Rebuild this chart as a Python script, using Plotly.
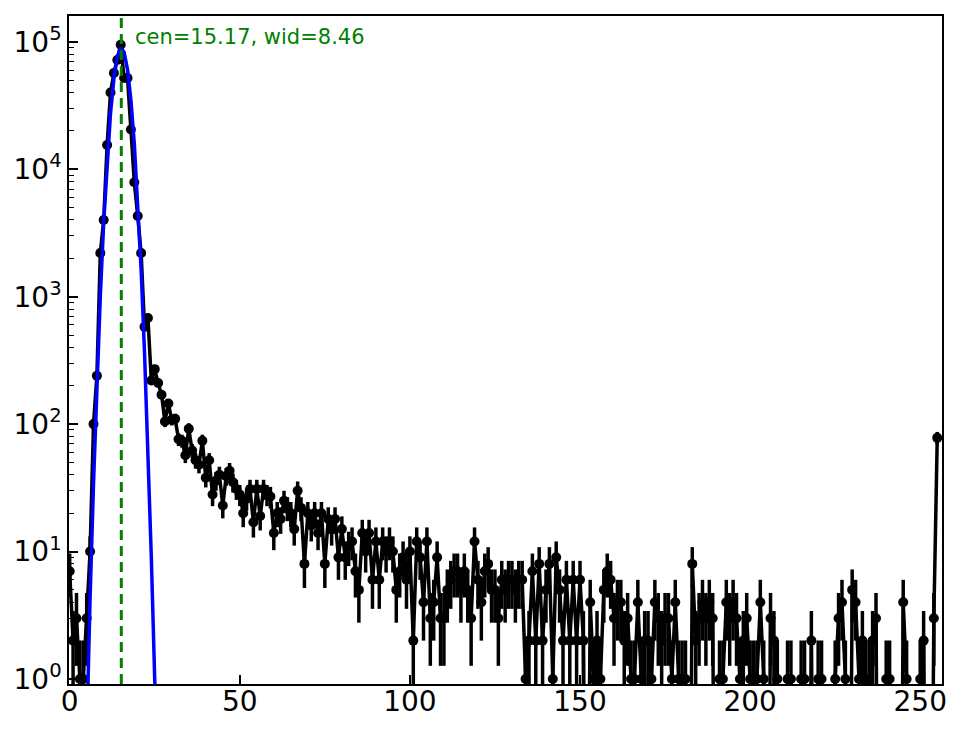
import numpy as np
import plotly.graph_objects as go

# histogram counts, one per bin 0..255
bins = list(range(256))
counts = [
    7, 2, 3, 1, 1, 3, 10, 100, 240, 2200,
    4000, 15500, 40000, 57000, 72000, 95000, 52000, 52000, 20500, 7900,
    4300, 2200, 580, 680, 220, 270, 210, 170, 105, 145,
    108, 110, 76, 74, 57, 92, 62, 52, 48, 74,
    38, 52, 28, 36, 40, 23, 39, 43, 35, 31,
    28, 20, 26, 31, 17, 31, 19, 31, 28, 27,
    14, 20, 18, 25, 22, 20, 15, 30, 22, 8,
    20, 16, 20, 14, 20, 8, 18, 15, 18, 9,
    15, 9, 11, 12, 7, 5, 14, 10, 14, 6,
    12, 6, 12, 10, 12, 10, 5, 7, 9, 6,
    10, 2, 12, 9, 4, 12, 3, 4, 9, 3,
    3, 5, 6, 7, 7, 5, 7, 5, 3, 12,
    6, 4, 7, 8, 5, 5, 3, 6, 5, 6,
    6, 5, 6, 6, 1, 2, 7, 2, 8, 2,
    5, 8, 1, 9, 5, 2, 6, 2, 6, 2,
    6, 2, 0, 4, 1, 2, 1, 5, 7, 6,
    3, 4, 4, 2, 3, 1, 1, 4, 1, 2,
    2, 1, 4, 3, 2, 3, 3, 1, 4, 1,
    1, 1, 0, 8, 2, 3, 4, 3, 4, 3,
    0, 1, 1, 4, 3, 4, 3, 1, 2, 3,
    1, 1, 1, 4, 1, 0, 3, 2, 1, 0,
    0, 1, 1, 0, 0, 1, 1, 0, 2, 0,
    1, 1, 0, 0, 0, 1, 3, 4, 1, 0,
    5, 4, 1, 2, 1, 1, 2, 3, 0, 0,
    1, 1, 0, 0, 0, 4, 1, 0, 0, 0,
    1, 2, 0, 0, 3, 78,
]

# gaussian fit result: amp * exp(-(x - cen)^2 / wid)
cen = 15.17
wid = 8.46
amp = 9.0e4

x = np.array(bins, dtype=float)
n = np.array(counts, dtype=float)
err = np.sqrt(n)
# zeros get pushed below the axis like matplotlib's log clipping
n_plot = np.where(n > 0, n, 1e-3)
fit = amp * np.exp(-(x - cen) ** 2 / wid)
fit = np.maximum(fit, 1e-6)

fig = go.Figure()

fig.add_trace(go.Scatter(
    x=x, y=n_plot, mode="lines+markers",
    line=dict(color="black", width=3.5),
    marker=dict(color="black", size=10),
    error_y=dict(type="data", array=err, arrayminus=err, visible=True,
                 color="black", thickness=3.5, width=0),
))

fig.add_trace(go.Scatter(
    x=x, y=fit, mode="lines",
    line=dict(color="#0000ff", width=3.5),
))

fig.add_vline(x=cen, line=dict(color="green", width=3, dash="10px,6px"))

fig.add_annotation(
    x=18.7, y=0.969, xref="x", yref="paper",
    xanchor="left", yanchor="middle", showarrow=False,
    text="cen=%.2f, wid=%.2f" % (cen, wid),
    font=dict(color="green", size=21, family="DejaVu Sans"),
)

dec = [0, 1, 2, 3, 4, 5]
minor_vals = [k * 10 ** d for d in dec for k in range(2, 10)]

# page body has an 8px margin, so shift the figure to line up
fig.update_layout(
    width=956, height=721, autosize=False,
    margin=dict(l=60, r=22, t=6, b=45),
    plot_bgcolor="white", paper_bgcolor="white",
    showlegend=False,
    font=dict(family="DejaVu Sans", size=28, color="black"),
)
fig.update_xaxes(
    range=[-0.2, 256.4],
    tickvals=[0, 50, 100, 150, 200, 250],
    tickfont=dict(size=28, family="DejaVu Sans", color="black"),
    ticklabelstandoff=-8,
    ticks="inside", ticklen=9, tickwidth=1.5, tickcolor="black",
    showline=True, mirror=True, linecolor="black", linewidth=1.5,
    showgrid=False, zeroline=False,
)
fig.update_yaxes(
    type="log",
    range=[np.log10(0.913), 5.203],
    tickvals=[10 ** d for d in dec],
    ticktext=["10<sup>%d</sup>" % d for d in dec],
    tickfont=dict(size=28, family="DejaVu Sans", color="black"),
    ticks="inside", ticklen=9, tickwidth=1.5, tickcolor="black",
    minor=dict(tickvals=minor_vals, ticks="inside", ticklen=5,
               tickwidth=1.2, tickcolor="black", showgrid=False),
    showline=True, mirror=True, linecolor="black", linewidth=1.5,
    showgrid=False, zeroline=False,
)

fig.write_html("out.html")
